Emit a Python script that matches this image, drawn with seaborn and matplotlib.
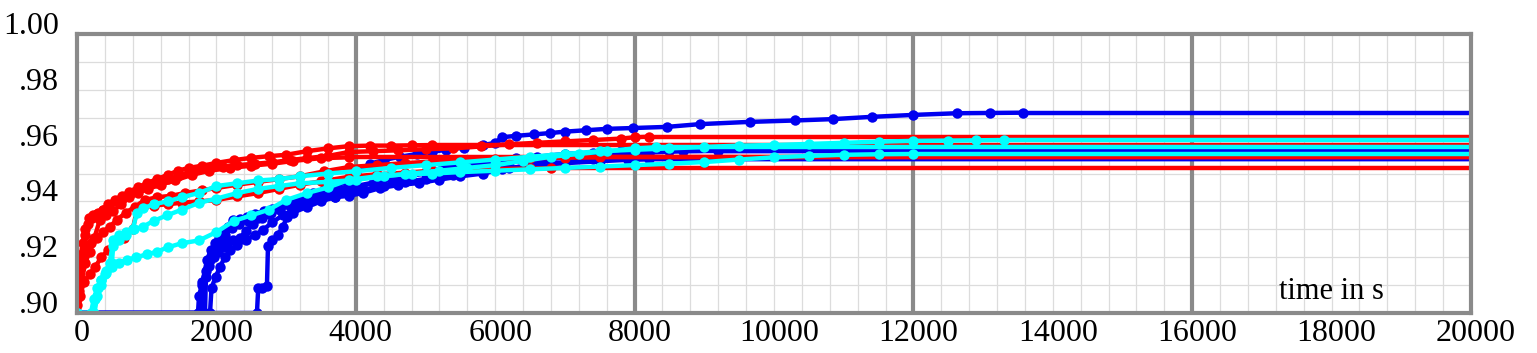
import numpy as np
import pandas as pd
import matplotlib
matplotlib.use("Agg")
import matplotlib.pyplot as plt
import matplotlib.transforms as mtransforms
import seaborn as sns
from matplotlib.ticker import FixedLocator

# ---------------- data (time in s, value) ----------------
red1_t = [0, 40, 80, 120, 170, 230, 300, 380, 460, 550, 650, 760, 880, 1000, 1150, 1300, 1450, 1600, 1750, 1900,
          2100, 2300, 2550, 2800, 3050, 3300, 3600, 3900, 4250, 4600, 5000, 5400, 5800, 6200, 6600, 7000, 7400, 7800, 8000, 8200]
red1_v = [0.910, 0.918, 0.925, 0.930, 0.934, 0.935, 0.936, 0.937, 0.9385, 0.940, 0.941, 0.9425, 0.944, 0.945, 0.9465, 0.948, 0.949, 0.9505, 0.9515, 0.952,
          0.9525, 0.953, 0.9535, 0.954, 0.9548, 0.9555, 0.9563, 0.9577, 0.958, 0.9583, 0.9587, 0.959, 0.9597, 0.9605, 0.961, 0.9615, 0.962, 0.9625, 0.963, 0.9632]

red2_t = [0, 30, 70, 110, 160, 220, 290, 370, 450, 540, 640, 750, 870, 1000, 1150, 1300, 1450, 1600, 1800, 2000,
          2250, 2500, 2750, 3000, 3300, 3600, 3900, 4200, 4500, 4800, 5100]
red2_v = [0.905, 0.914, 0.921, 0.928, 0.932, 0.934, 0.9355, 0.937, 0.939, 0.9405, 0.942, 0.9435, 0.945, 0.9465, 0.948, 0.9495, 0.951, 0.952, 0.9528, 0.9538,
          0.9548, 0.9556, 0.9562, 0.9567, 0.958, 0.959, 0.9598, 0.9600, 0.9600, 0.9601, 0.9602]

red3_t = [0, 40, 100, 180, 260, 350, 450, 560, 680, 800, 860, 950, 1100, 1300, 1500, 1750, 2000, 2300, 2600, 2900,
          3200, 3500, 3900, 4300, 4700, 5100, 5500, 6000, 6500, 6800]
red3_v = [0.903, 0.906, 0.911, 0.914, 0.9165, 0.920, 0.9226, 0.926, 0.927, 0.930, 0.937, 0.938, 0.9385, 0.939, 0.9395, 0.940, 0.9405, 0.9418, 0.943, 0.9445,
          0.946, 0.9472, 0.9488, 0.9497, 0.9503, 0.951, 0.9513, 0.9516, 0.9518, 0.9519]

red4_t = [0, 50, 120, 200, 280, 370, 470, 580, 700, 830, 970, 1150, 1350, 1550, 1800, 2000, 2300, 2600, 2900, 3200,
          3550, 3900, 4300, 4700, 5100, 5500, 6000, 6500, 7000, 7500]
red4_v = [0.916, 0.919, 0.9226, 0.925, 0.927, 0.929, 0.931, 0.9335, 0.936, 0.938, 0.9405, 0.9415, 0.942, 0.943, 0.944, 0.9448, 0.946, 0.947, 0.948, 0.949,
          0.9508, 0.9523, 0.953, 0.9537, 0.9543, 0.9548, 0.9552, 0.9555, 0.9557, 0.9558]

red5_t = [0, 30, 70, 120, 180, 250, 330, 420, 520, 630, 750, 880, 1020, 1200, 1400, 1650, 1900, 2200, 2500, 2800, 3100, 3500, 3900]
red5_v = [0.900, 0.908, 0.912, 0.918, 0.922, 0.927, 0.9335, 0.935, 0.9365, 0.939, 0.9415, 0.943, 0.9445, 0.946, 0.9475, 0.9495, 0.951, 0.952, 0.9528, 0.9535, 0.9545, 0.9555, 0.9558]

cyan1_t = [0, 230, 260, 300, 350, 420, 500, 520, 600, 700, 800, 860, 950, 1100, 1300, 1500, 1750, 2000, 2300, 2600,
           2900, 3200, 3600, 4000, 4500, 5000, 5500, 6000, 6500, 7000, 7500, 8000, 8500, 9000, 9500, 10000, 10500, 11000,
           11500, 12000, 12500, 12900, 13300]
cyan1_v = [0.900, 0.900, 0.905, 0.909, 0.912, 0.915, 0.918, 0.924, 0.926, 0.928, 0.930, 0.936, 0.9375, 0.939, 0.940, 0.9415, 0.943, 0.9455, 0.9465, 0.9475,
           0.948, 0.949, 0.950, 0.9508, 0.952, 0.953, 0.954, 0.955, 0.956, 0.957, 0.958, 0.9585, 0.959, 0.9595, 0.960, 0.9602, 0.9606, 0.961,
           0.9614, 0.9617, 0.9618, 0.9619, 0.9620]

cyan2_t = [0, 250, 290, 340, 400, 470, 520, 600, 700, 820, 950, 1100, 1290, 1500, 1750, 2000, 2300, 2600, 2900, 3200,
           3600, 4000, 4400, 4800, 5200, 5600, 6000, 6400, 6800, 7200, 7600, 8000, 8300]
cyan2_v = [0.900, 0.900, 0.906, 0.910, 0.914, 0.918, 0.926, 0.928, 0.929, 0.930, 0.931, 0.933, 0.935, 0.937, 0.9395, 0.941, 0.943, 0.9445, 0.9455, 0.9465,
           0.947, 0.9477, 0.949, 0.950, 0.951, 0.952, 0.953, 0.9545, 0.956, 0.957, 0.958, 0.959, 0.9594]

cyan3_t = [0, 200, 240, 290, 350, 420, 500, 600, 720, 850, 1000, 1150, 1300, 1500, 1750, 2000, 2250, 2500, 2750, 3000,
           3300, 3600, 3900, 4300, 4700, 5100, 5500, 6000, 6500, 7000, 7500, 8000, 8500, 9000, 9500, 10000, 10500, 11000, 11500, 12000]
cyan3_v = [0.900, 0.900, 0.905, 0.909, 0.912, 0.9145, 0.9165, 0.918, 0.919, 0.920, 0.921, 0.922, 0.9235, 0.925, 0.926, 0.929, 0.933, 0.935, 0.937, 0.9405,
           0.943, 0.945, 0.9477, 0.949, 0.9497, 0.950, 0.9505, 0.951, 0.9515, 0.952, 0.9525, 0.953, 0.9535, 0.9541, 0.955, 0.9558, 0.9563, 0.9567, 0.9569, 0.9570]

blue1_t = [0, 1736, 1750, 1800, 1865, 1920, 1980, 2040, 2095, 2160, 2238, 2340, 2439, 2550, 2680, 2800, 2912, 3050, 3200, 3386,
           3550, 3700, 3874, 4000, 4200, 4400, 4630, 4880, 5100, 5300, 5550, 5830, 6000, 6100, 6300, 6550, 6790, 7000, 7300, 7600,
           7980, 8460, 8940, 9650, 10300, 10850, 11400, 12000, 12625, 13100, 13570]
blue1_v = [0.900, 0.900, 0.906, 0.911, 0.919, 0.9226, 0.925, 0.927, 0.9287, 0.931, 0.9333, 0.9338, 0.9344, 0.9355, 0.9365, 0.9372, 0.938, 0.9395, 0.941, 0.943,
           0.944, 0.9455, 0.947, 0.950, 0.9535, 0.9548, 0.956, 0.957, 0.9578, 0.9585, 0.9593, 0.9602, 0.961, 0.963, 0.9635, 0.964, 0.9645, 0.965, 0.9655, 0.966,
           0.9663, 0.9667, 0.9677, 0.9685, 0.9690, 0.9695, 0.9703, 0.9710, 0.9716, 0.9717, 0.9718]

blue2_t = [0, 1836, 1850, 1900, 1960, 2020, 2090, 2152, 2240, 2339, 2430, 2525, 2650, 2780, 2912, 3050, 3200, 3400, 3600, 3800,
           4000, 4250, 4500, 4750, 5000, 5250, 5500, 5750, 6000, 6300, 6600, 7000, 7400, 7800, 8200, 8500]
blue2_v = [0.900, 0.900, 0.913, 0.917, 0.920, 0.922, 0.9235, 0.925, 0.926, 0.927, 0.9295, 0.932, 0.934, 0.9357, 0.937, 0.9385, 0.940, 0.9415, 0.943, 0.944,
           0.945, 0.9465, 0.948, 0.949, 0.9505, 0.952, 0.953, 0.954, 0.9548, 0.9555, 0.956, 0.957, 0.9575, 0.958, 0.9581, 0.9582]

blue3_t = [0, 1908, 1930, 1990, 2052, 2120, 2195, 2300, 2420, 2550, 2668, 2800, 2950, 3100, 3300, 3500, 3700, 3900, 4100, 4350,
           4600, 4900, 5200, 5500, 5830, 6100, 6500, 7000, 7500, 7900, 8200]
blue3_v = [0.900, 0.900, 0.909, 0.913, 0.9165, 0.920, 0.9226, 0.9245, 0.926, 0.928, 0.9297, 0.9325, 0.935, 0.937, 0.939, 0.9405, 0.9415, 0.942, 0.943, 0.9448,
           0.9458, 0.9466, 0.9478, 0.949, 0.950, 0.9515, 0.953, 0.9537, 0.9544, 0.9549, 0.9551]

blue4_t = [0, 2582, 2600, 2650, 2725, 2740, 2800, 2880, 2955, 3013, 3100, 3300, 3500, 3700, 3900, 4100, 4400, 4700, 5000, 5400,
           5800, 6200, 6600, 7000, 7400]
blue4_v = [0.900, 0.900, 0.909, 0.909, 0.9095, 0.924, 0.926, 0.928, 0.931, 0.9344, 0.936, 0.938, 0.940, 0.9415, 0.943, 0.944, 0.9455, 0.947, 0.948, 0.9495,
           0.951, 0.952, 0.953, 0.954, 0.9551]

blue5_t = [0, 1780, 1800, 1850, 1910, 1980, 2050, 2130, 2220, 2330, 2450, 2600, 2750, 2900, 3100, 3300, 3500, 3750, 4000, 4300,
           4600, 5000, 5400, 5800, 6200, 6700, 7200, 7700, 8200, 8700, 9200]
blue5_v = [0.900, 0.900, 0.910, 0.915, 0.919, 0.922, 0.925, 0.928, 0.9305, 0.932, 0.933, 0.934, 0.9355, 0.9375, 0.9395, 0.941, 0.9425, 0.944, 0.9455, 0.947,
           0.9485, 0.950, 0.9515, 0.953, 0.954, 0.955, 0.956, 0.9568, 0.9575, 0.958, 0.9582]

x_end = 20000
x_ticks = [0, 2000, 4000, 6000, 8000, 10000, 12000, 14000, 16000, 18000, 20000]
y_ticks = [0.90, 0.92, 0.94, 0.96, 0.98, 1.00]
y_tick_labels = [".90", ".92", ".94", ".96", ".98", "1.00"]
x_label_text = "time in s"

RED, BLUE, CYAN = "#ff0000", "#0000f0", "#00ffff"
series = [
    (blue1_t, blue1_v, BLUE), (blue2_t, blue2_v, BLUE), (blue3_t, blue3_v, BLUE),
    (blue4_t, blue4_v, BLUE), (blue5_t, blue5_v, BLUE),
    (red1_t, red1_v, RED), (red2_t, red2_v, RED), (red3_t, red3_v, RED),
    (red4_t, red4_v, RED), (red5_t, red5_v, RED),
    (cyan1_t, cyan1_v, CYAN), (cyan2_t, cyan2_v, CYAN), (cyan3_t, cyan3_v, CYAN),
]

# ---------------- figure ----------------
sns.set_style("white")
plt.rcParams["font.family"] = ["Liberation Serif", "DejaVu Serif"]

W, H = 1537, 353
fig = plt.figure(figsize=(W / 100, H / 100), dpi=100)
ax = fig.add_axes([77 / W, 1 - 313 / H, (1471 - 77) / W, (313 - 34) / H])

ax.set_xlim(0, x_end)
ax.set_ylim(0.90, 1.00)

# grid
minor_x = np.arange(0, x_end + 1, 400)
minor_y = np.arange(0.90, 1.0001, 0.01)
major_x = np.arange(4000, x_end, 4000)
ax.vlines(minor_x, 0.90, 1.00, colors="#dcdcdc", linewidth=0.9, zorder=0.5)
ax.hlines(minor_y, 0, x_end, colors="#dcdcdc", linewidth=0.9, zorder=0.5)
ax.vlines(major_x, 0.90, 1.00, colors="#8a8a8a", linewidth=3.0, zorder=0.8)

LW = 3.2
for t, v, c in series:
    line_ax = sns.lineplot(x=t, y=v, ax=ax, color=c, linewidth=LW, sort=False, estimator=None, zorder=2)
    line = line_ax.lines[-1]
    line.set_marker("o")
    line.set_markersize(7.5)
    line.set_markeredgewidth(0)
    line.set_markerfacecolor(c)
    sns.lineplot(x=[t[-1], x_end], y=[v[-1], v[-1]], ax=ax, color=c, linewidth=LW,
                 sort=False, estimator=None, zorder=2)

ax.set_xlabel("")
ax.set_ylabel("")
ax.xaxis.set_major_locator(FixedLocator(x_ticks))
ax.set_xticklabels([str(x) for x in x_ticks])
ax.yaxis.set_major_locator(FixedLocator(y_ticks))
ax.set_yticklabels(y_tick_labels)
ax.tick_params(axis="both", length=0, labelsize=23, colors="black")
ax.tick_params(axis="y", pad=13)
ax.tick_params(axis="x", pad=4)
for lab in ax.get_yticklabels():
    lab.set_verticalalignment("baseline")
shift = mtransforms.ScaledTranslation(5 / 100, 0, fig.dpi_scale_trans)
for lab in ax.get_xticklabels():
    lab.set_transform(lab.get_transform() + shift)

for s in ax.spines.values():
    s.set_visible(True)
    s.set_color("#8a8a8a")
    s.set_linewidth(3.0)
    s.set_zorder(3)

ax.text(18000, 0.905, x_label_text, ha="center", va="baseline", fontsize=22, color="black")

fig.savefig("out.png", dpi=100)
